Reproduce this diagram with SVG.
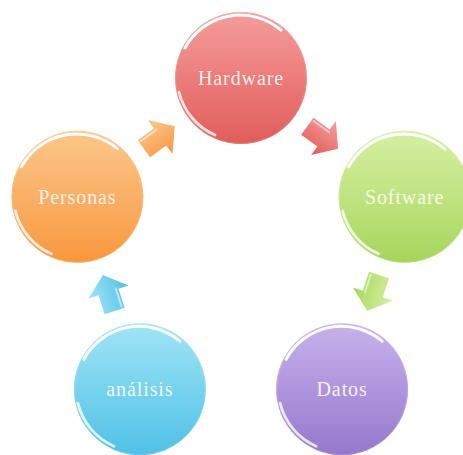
<svg xmlns="http://www.w3.org/2000/svg" xmlns:xlink="http://www.w3.org/1999/xlink" width="463" height="455" viewBox="0 0 463 455">
  <style>
    .label { font-family: "Liberation Serif", "Times New Roman", serif; font-size: 20px; letter-spacing: 0.9px; fill: #fffaf6; fill-opacity: 0.92; text-anchor: middle; }
    .rim { fill: none; stroke: #ffffff; stroke-linecap: round; }
    .edge { fill: none; stroke: #ffffff; stroke-opacity: 0.15; stroke-width: 1; }
    .shine { fill: none; stroke: #ffffff; stroke-opacity: 0.5; stroke-width: 2.2; stroke-linecap: round; }
  </style>
  <defs>
    <!-- sphere body gradients: lighter top, deeper bottom -->
    <linearGradient id="gRed" x1="0" y1="0" x2="0" y2="1">
      <stop offset="0" stop-color="#f39d9b"/>
      <stop offset="0.45" stop-color="#ed807e"/>
      <stop offset="1" stop-color="#e05d59"/>
    </linearGradient>
    <linearGradient id="gGreen" x1="0" y1="0" x2="0" y2="1">
      <stop offset="0" stop-color="#d6efa2"/>
      <stop offset="0.45" stop-color="#c2e585"/>
      <stop offset="1" stop-color="#a6d55a"/>
    </linearGradient>
    <linearGradient id="gPurple" x1="0" y1="0" x2="0" y2="1">
      <stop offset="0" stop-color="#c6b2ea"/>
      <stop offset="0.45" stop-color="#b198df"/>
      <stop offset="1" stop-color="#9578cb"/>
    </linearGradient>
    <linearGradient id="gCyan" x1="0" y1="0" x2="0" y2="1">
      <stop offset="0" stop-color="#a2e4f5"/>
      <stop offset="0.45" stop-color="#7cd5ef"/>
      <stop offset="1" stop-color="#50c0e6"/>
    </linearGradient>
    <linearGradient id="gOrange" x1="0" y1="0" x2="0" y2="1">
      <stop offset="0" stop-color="#fcc78a"/>
      <stop offset="0.45" stop-color="#fab26b"/>
      <stop offset="1" stop-color="#f8973c"/>
    </linearGradient>
    <!-- fading white for the upper rim highlight -->
    <linearGradient id="rimTop" x1="0" y1="0" x2="1" y2="0">
      <stop offset="0" stop-color="#ffffff" stop-opacity="0.85"/>
      <stop offset="0.4" stop-color="#ffffff" stop-opacity="0.55"/>
      <stop offset="1" stop-color="#ffffff" stop-opacity="0"/>
    </linearGradient>
    <filter id="soft" x="-20%" y="-20%" width="140%" height="140%">
      <feGaussianBlur stdDeviation="0.7"/>
    </filter>
    <!-- glossy rim shared by every sphere (centred on 0,0, r = 66) -->
    <g id="gloss">
      <circle r="65.5" class="edge"/>
      <g filter="url(#soft)">
        <path d="M-56,-30 A63,63 0 0 1 40,-48" class="rim" stroke="url(#rimTop)" stroke-width="3"/>
        <path d="M-62,14 A63,63 0 0 0 -26,57" class="rim" stroke-opacity="0.8" stroke-width="2.8"/>
      </g>
    </g>
    <!-- block arrow pointing along +x, centred on 0,0 -->
    <path id="arrow" d="M-19,-10.5 L1,-10.5 L1,-21 L19,0 L1,21 L1,10.5 L-19,10.5 Z"/>
  </defs>

  <g id="connectors">
    <g transform="translate(159.3,137.5) rotate(324)">
      <use xlink:href="#arrow" fill="url(#gOrange)"/>
      <path d="M-17,-8 L2,-8" class="shine"/>
    </g>
    <g transform="translate(322.7,137.5) rotate(36)">
      <use xlink:href="#arrow" fill="url(#gRed)"/>
      <path d="M-17,-8 L2,-8" class="shine"/>
    </g>
    <g transform="translate(373.2,293) rotate(108)">
      <use xlink:href="#arrow" fill="url(#gGreen)"/>
      <path d="M-17,8 L2,8" class="shine"/>
    </g>
    <g transform="translate(108.8,293) rotate(252)">
      <use xlink:href="#arrow" fill="url(#gCyan)"/>
      <path d="M-17,8 L2,8" class="shine"/>
    </g>
  </g>

  <g id="hardware" transform="translate(241,78)">
    <circle r="66" fill="url(#gRed)"/>
    <use xlink:href="#gloss"/>
    <text class="label" y="7">Hardware</text>
  </g>

  <g id="software" transform="translate(404.6,196.8)">
    <circle r="66" fill="url(#gGreen)"/>
    <use xlink:href="#gloss"/>
    <text class="label" y="7">Software</text>
  </g>

  <g id="datos" transform="translate(342.1,389.2)">
    <circle r="66" fill="url(#gPurple)"/>
    <use xlink:href="#gloss"/>
    <text class="label" y="7">Datos</text>
  </g>

  <g id="analisis" transform="translate(139.9,389.2)">
    <circle r="66" fill="url(#gCyan)"/>
    <use xlink:href="#gloss"/>
    <text class="label" y="7">análisis</text>
  </g>

  <g id="personas" transform="translate(77.4,196.8)">
    <circle r="66" fill="url(#gOrange)"/>
    <use xlink:href="#gloss"/>
    <text class="label" y="7">Personas</text>
  </g>
</svg>
